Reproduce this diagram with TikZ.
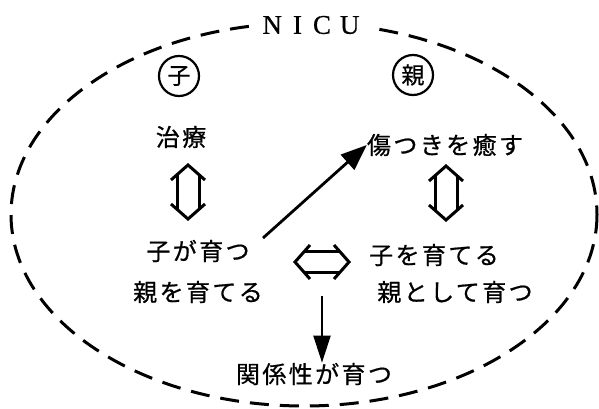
\documentclass[tikz,border=0pt]{standalone}
\usepackage{fontspec}
\setmainfont{Liberation Serif}[FakeBold=0.6]
\newfontfamily\jp{Noto Sans CJK JP}[LetterSpace=10,FakeBold=0.7]
\newfontfamily\jpc{Noto Sans CJK JP}[FakeBold=0.7]
\usetikzlibrary{arrows.meta}
\begin{document}
\begin{tikzpicture}[x=1pt,y=-1pt,
  lbl/.style={font=\jp\fontsize{24}{24}\selectfont, inner sep=0pt},
  circ/.style={circle, draw, line width=2.2pt, minimum size=40pt, inner sep=0pt, font=\jpc\fontsize{23}{23}\selectfont},
  oval/.style={line width=3pt, dash pattern=on 19pt off 11pt},
  hollow/.style={line width=3pt, line join=miter, line cap=butt},
  arr/.style={line width=2.8pt, -{Triangle[length=26pt,width=20pt]}},
  darr/.style={line width=2pt, -{Triangle[length=27pt,width=17pt]}},
  pics/vdbl/.style={code={
    \draw[hollow] (-17,-12) -- (0,-27) -- (17,-12);
    \draw[hollow] (-17,12) -- (0,27) -- (17,12);
    \draw[hollow] (-11,-17.3) -- (-11,17.3);
    \draw[hollow] (11,-17.3) -- (11,17.3);
  }},
  pics/hdbl/.style={code={
    \draw[hollow] (-12,-17) -- (-27,0) -- (-12,17);
    \draw[hollow] (12,-17) -- (27,0) -- (12,17);
    \draw[hollow] (-17.6,-10.5) -- (17.6,-10.5);
    \draw[hollow] (-17.6,10.5) -- (17.6,10.5);
  }}
]
\useasboundingbox (0,0) rectangle (599,409);
\draw[oval] (304,214.5) ellipse [x radius=293, y radius=191.5];
\node[fill=white, inner xsep=13pt, inner ysep=5pt, font=\fontsize{27}{27}\selectfont] (nicu) at (311,25) {N\hspace{11pt}I\hspace{11pt}C\hspace{9pt}U};

\node[circ] (ko) at (179,76) {\jpc 子};
\node[circ] (oya) at (413,75) {\jpc 親};

\node[lbl] (chiryo) at (181,137) {治療};
\pic at (188,192) {vdbl};
\node[lbl] (kosodatsu) at (198,251) {子が育つ};
\node[lbl] (oyasodateru) at (198,292) {親を育てる};

\node[lbl] (iyasu) at (445,145) {傷つきを癒す};
\pic at (446,193) {vdbl};
\node[lbl] (kosodateru) at (434,255) {子を育てる};
\node[lbl] (oyatoshite) at (455,292) {親として育つ};

\pic at (322,262) {hdbl};
\node[lbl] (kankei) at (314,374) {関係性が育つ};

\coordinate (a0) at (263,238);
\draw[arr] (a0) -- (iyasu.west);
\coordinate (d0) at (322,296);
\draw[darr] (d0) -- (d0 |- kankei.north);
\end{tikzpicture}
\end{document}
